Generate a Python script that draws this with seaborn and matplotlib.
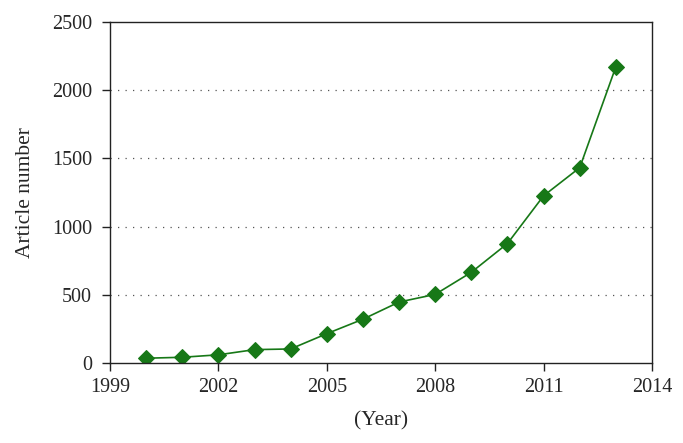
import pandas as pd
import matplotlib
matplotlib.use("Agg")
import matplotlib.pyplot as plt
import seaborn as sns

years = [2000, 2001, 2002, 2003, 2004, 2005, 2006, 2007, 2008, 2009, 2010, 2011, 2012, 2013]
articles = [35, 42, 60, 98, 103, 215, 321, 447, 503, 665, 876, 1226, 1432, 2172]
x_ticks = [1999, 2002, 2005, 2008, 2011, 2014]
y_ticks = [0, 500, 1000, 1500, 2000, 2500]

df = pd.DataFrame({"Year": years, "Articles": articles})

sns.set_style("white")
plt.rcParams['font.family'] = ['Liberation Serif', 'DejaVu Serif']

fig = plt.figure(figsize=(6.83, 4.43), dpi=100)
ax = fig.add_axes([110 / 683, 1 - 363 / 443, (652 - 110) / 683, (363 - 22) / 443])

green = '#177817'
sns.lineplot(x='Year', y='Articles', data=df, ax=ax, color=green, linewidth=1.2,
             marker='D', markersize=8.5, markeredgecolor=green, markerfacecolor=green)

ax.set_xlim(1999, 2014)
ax.set_ylim(0, 2500)
ax.set_xticks(x_ticks)
ax.set_yticks(y_ticks)
for yv in y_ticks[1:-1]:
    ax.axhline(yv, color='#555555', linestyle=(0, (1, 5)), linewidth=0.9, zorder=0)

for s in ax.spines.values():
    s.set_color('#222222')
    s.set_linewidth(1.0)
ax.tick_params(axis='both', which='both', direction='out', length=6, width=1.0,
               color='#222222', labelsize=14.5, left=True, bottom=True)
ax.tick_params(axis='y', pad=7)
ax.tick_params(axis='x', pad=5)

ax.set_xlabel('(Year)', fontsize=15.5, labelpad=10)
ax.set_ylabel('Article number', fontsize=15.5, labelpad=12)

fig.savefig('out.png', dpi=100)
